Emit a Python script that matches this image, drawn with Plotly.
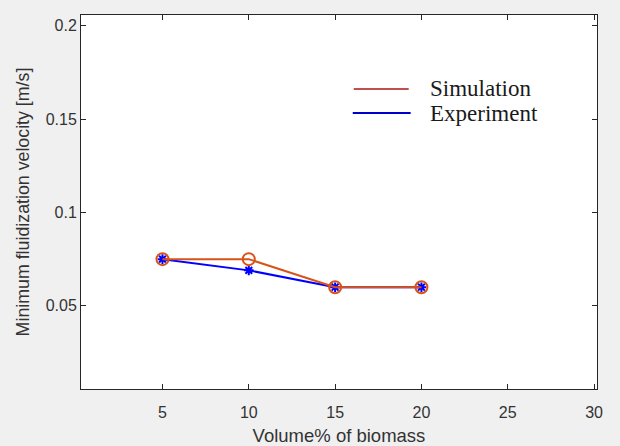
import plotly.graph_objects as go

volume = [5, 10, 15, 20]
simulation = [0.075, 0.075, 0.060, 0.060]
experiment = [0.075, 0.069, 0.060, 0.060]
x_ticks = [5, 10, 15, 20, 25, 30]
y_ticks = [0.05, 0.1, 0.15, 0.2]
y_tick_text = ["0.05", "0.1", "0.15", "0.2"]

ORANGE = "#D95319"
BLUE = "#0000FF"
AX = "#262626"

fig = go.Figure()
fig.add_trace(go.Scatter(x=volume, y=experiment, mode="lines+markers", name="Experiment",
                         line=dict(color=BLUE, width=2),
                         marker=dict(symbol="asterisk-open", size=8, color=BLUE, line=dict(width=2, color=BLUE))))
fig.add_trace(go.Scatter(x=volume, y=simulation, mode="lines+markers", name="Simulation",
                         line=dict(color=ORANGE, width=2),
                         marker=dict(symbol="circle-open", size=12, color=ORANGE, line=dict(width=2))))

# manual legend (no box)
W, H = 516.5, 374
fig.add_shape(type="line", xref="paper", yref="paper", x0=(354-81)/W, x1=(409-81)/W,
              y0=(389-89)/H, y1=(389-89)/H, line=dict(color="#C0504D", width=2))
fig.add_shape(type="line", xref="paper", yref="paper", x0=(353-81)/W, x1=(411-81)/W,
              y0=(389-113)/H, y1=(389-113)/H, line=dict(color="#0000CC", width=2))
for txt, yy in [("Simulation", 88), ("Experiment", 113)]:
    fig.add_annotation(text=txt, xref="paper", yref="paper", x=(428-81)/W, y=(389-yy)/H,
                       xanchor="left", yanchor="middle", showarrow=False,
                       font=dict(family="Liberation Serif", size=23, color="#1a1a1a"))

axis_common = dict(showline=True, mirror="ticks", linecolor=AX, linewidth=1, ticks="inside",
                   ticklen=5, tickcolor=AX, showgrid=False, zeroline=False, automargin=False,
                   tickfont=dict(family="Liberation Sans", size=16, color="#333333"))
fig.update_xaxes(range=[0.28, 30.17], tickvals=x_ticks, ticklabelstandoff=9, **axis_common,
                 title=dict(text="Volume% of biomass", standoff=8,
                            font=dict(family="Liberation Sans", size=18.5, color="#333333")))
fig.update_yaxes(range=[0.0055, 0.2057], tickvals=y_ticks, ticktext=y_tick_text, **axis_common,
                 title=dict(text="Minimum fluidization velocity [m/s]", standoff=11,
                            font=dict(family="Liberation Sans", size=17.8, color="#333333")))

fig.update_layout(width=620, height=446, margin=dict(l=81, r=22.5, t=15, b=57),
                  paper_bgcolor="#F0F0F0", plot_bgcolor="#FFFFFF", showlegend=False)
fig.write_html("out.html")
